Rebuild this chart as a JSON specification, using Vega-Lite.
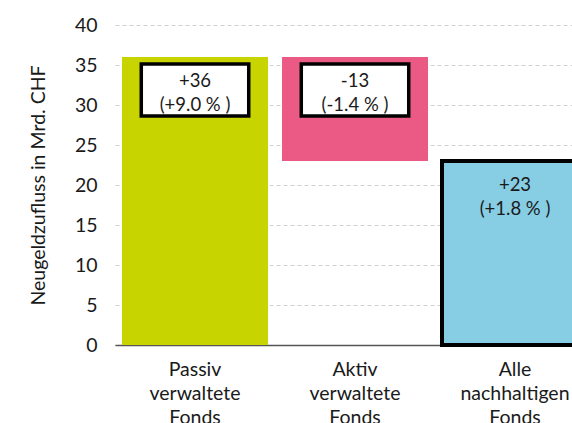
{
  "$schema": "https://vega.github.io/schema/vega-lite/v6.json",
  "autosize": "none",
  "width": 480,
  "height": 320,
  "padding": {"left": 115, "top": 25, "right": 0, "bottom": 78},
  "background": "white",
  "config": {
    "font": "Lato",
    "view": {"stroke": null},
    "axis": {"labelColor": "#1a1a1a", "titleColor": "#1a1a1a", "labelFont": "Lato", "titleFont": "Lato"}
  },
  "data": {
    "values": [
      {"cat": "Passiv verwaltete Fonds", "lo": 0, "hi": 36, "label": "+36\n(+9.0 % )", "boxed": true},
      {"cat": "Aktiv verwaltete Fonds", "lo": 23, "hi": 36, "label": "-13\n(-1.4 % )", "boxed": true},
      {"cat": "Alle nachhaltigen Fonds", "lo": 0, "hi": 23, "label": "+23\n(+1.8 % )", "boxed": false}
    ]
  },
  "encoding": {
    "x": {
      "field": "cat",
      "type": "nominal",
      "sort": null,
      "scale": {"paddingInner": 0.0875, "paddingOuter": 0.04375},
      "axis": {
        "title": null,
        "labelAngle": 0,
        "labelExpr": "split(datum.label, ' ')",
        "labelFontSize": 19.5,
        "labelLineHeight": 24,
        "labelPadding": 15,
        "ticks": false,
        "domainColor": "#555555",
        "domainWidth": 1.5,
        "grid": false
      }
    },
    "y": {
      "field": "hi",
      "type": "quantitative",
      "scale": {"domain": [0, 40]},
      "axis": {
        "title": "Neugeldzufluss in Mrd. CHF",
        "titleFontSize": 19.5,
        "titleFontWeight": "normal",
        "titlePadding": 26,
        "labelFontSize": 19.5,
        "labelPadding": 18,
        "labelOverlap": false,
        "values": [0, 5, 10, 15, 20, 25, 30, 35, 40],
        "domain": false,
        "ticks": false,
        "gridColor": "#d0d0d0",
        "gridDash": [4, 3],
        "gridWidth": 1
      }
    }
  },
  "layer": [
    {
      "mark": {"type": "bar", "strokeWidth": 4},
      "encoding": {
        "y2": {"field": "lo"},
        "color": {
          "field": "cat",
          "type": "nominal",
          "legend": null,
          "scale": {
            "domain": ["Passiv verwaltete Fonds", "Aktiv verwaltete Fonds", "Alle nachhaltigen Fonds"],
            "range": ["#c8d400", "#eb5a84", "#87cde4"]
          }
        },
        "stroke": {
          "condition": {"test": "!datum.boxed", "value": "#000000"},
          "value": null
        }
      }
    },
    {
      "transform": [{"filter": "datum.boxed"}],
      "mark": {
        "type": "bar",
        "fill": "white",
        "stroke": "black",
        "strokeWidth": 3.5,
        "width": {"band": 0.736},
        "yOffset": 7,
        "y2Offset": 59
      },
      "encoding": {
        "y2": {"field": "hi"}
      }
    },
    {
      "mark": {
        "type": "text",
        "lineBreak": "\n",
        "lineHeight": 23.5,
        "baseline": "top",
        "align": "center",
        "fontSize": 18.5,
        "dy": 15,
        "color": "#1a1a1a"
      },
      "encoding": {
        "text": {"field": "label"}
      }
    }
  ]
}
